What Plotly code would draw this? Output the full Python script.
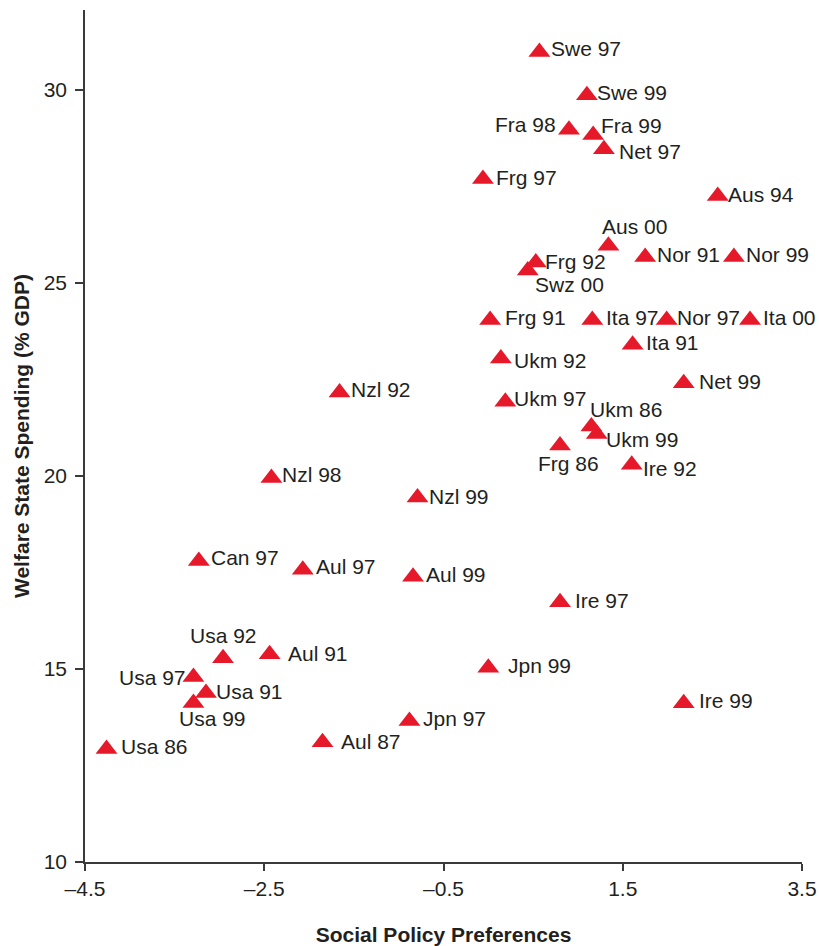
import plotly.graph_objects as go

# ---- data ----
labels = ["Swe 97", "Swe 99", "Fra 98", "Fra 99", "Net 97", "Frg 97", "Aus 94", "Aus 00",
          "Nor 91", "Nor 99", "Frg 92", "Swz 00", "Frg 91", "Ita 97", "Nor 97", "Ita 00",
          "Ita 91", "Ukm 92", "Net 99", "Ukm 97", "Ukm 86", "Ukm 99", "Frg 86", "Ire 92",
          "Nzl 92", "Nzl 98", "Can 97", "Aul 97", "Usa 92", "Aul 91", "Usa 97", "Usa 91",
          "Usa 99", "Usa 86", "Aul 87", "Nzl 99", "Aul 99", "Ire 97", "Jpn 99", "Ire 99",
          "Jpn 97"]
social_pref = [0.57, 1.10, 0.90, 1.17, 1.29, -0.06, 2.56, 1.34,
               1.75, 2.74, 0.53, 0.44, 0.02, 1.16, 1.99, 2.92,
               1.61, 0.14, 2.18, 0.19, 1.15, 1.21, 0.80, 1.60,
               -1.66, -2.42, -3.23, -2.07, -2.96, -2.44, -3.29, -3.15,
               -3.29, -4.26, -1.85, -0.79, -0.84, 0.80, 0.00, 2.18,
               -0.88]
welfare_spend = [30.98, 29.86, 28.97, 28.83, 28.46, 27.69, 27.25, 25.96,
                 25.67, 25.67, 25.53, 25.32, 24.04, 24.04, 24.04, 24.04,
                 23.40, 23.04, 22.40, 21.92, 21.28, 21.09, 20.79, 20.29,
                 22.16, 19.95, 17.80, 17.57, 15.28, 15.38, 14.79, 14.38,
                 14.12, 12.93, 13.10, 19.44, 17.39, 16.73, 15.03, 14.11,
                 13.65]

x_ticks = [-4.5, -2.5, -0.5, 1.5, 3.5]
x_tick_text = ["\u20134.5", "\u20132.5", "\u20130.5", "1.5", "3.5"]
y_ticks = [10, 15, 20, 25, 30]
y_tick_text = ["10", "15", "20", "25", "30"]

# ---- label placement (style: anchor, x offset px, y offset px [down positive]) ----
label_style = [("left", 12, -4), ("left", 10.5, -3), ("right", -13, -5), ("left", 8, -9.5),
               ("left", 15.5, 2), ("left", 13.5, -2), ("left", 10.5, -1.5), ("left", -6.5, -19),
               ("left", 12, -3), ("left", 12.5, -3), ("left", 9, -1), ("left", 7.5, 14),
               ("left", 14.5, -2), ("left", 13.5, -2), ("left", 10, -2), ("left", 13, -2),
               ("left", 13.5, -2), ("left", 13, 2), ("left", 15.5, -1.5), ("left", 8.5, -3),
               ("left", -1, -17), ("left", 9.5, 5.5), ("center", 8.5, 18.5), ("left", 11, 4),
               ("left", 11.5, -3.5), ("left", 11, -3), ("left", 12.5, -3), ("left", 13, -3),
               ("center", 0, -22.5), ("left", 18.5, -1), ("right", -7.5, 0), ("left", 10.5, -1),
               ("center", 19, 16), ("left", 14, -2.5), ("left", 18, -1), ("left", 11.5, -1),
               ("left", 12.5, -2.5), ("left", 14.5, -2), ("left", 20, -2), ("left", 15, -2.5),
               ("left", 14, -3)]

FONT = "Liberation Sans, Arial, Helvetica, sans-serif"
TEXT_COLOR = "#231f20"
RED = "#e6192b"

fig = go.Figure()
fig.add_trace(go.Scatter(
    x=social_pref, y=welfare_spend, mode="markers",
    marker=dict(symbol="triangle-up", size=19, color=RED, line=dict(width=0)),
    hovertext=labels, hoverinfo="text", cliponaxis=False, showlegend=False,
))

annotations = []
for lab, xv, yv, (anc, dx, dy) in zip(labels, social_pref, welfare_spend, label_style):
    annotations.append(dict(
        x=xv, y=yv, xref="x", yref="y", text=lab, showarrow=False,
        xanchor=anc, yanchor="middle", xshift=dx, yshift=-dy,
        font=dict(family=FONT, size=21, color=TEXT_COLOR),
        borderpad=0, borderwidth=0,
    ))

fig.update_layout(
    width=819, height=946,
    margin=dict(l=85, r=17, t=10, b=84, autoexpand=False),
    plot_bgcolor="white", paper_bgcolor="white",
    font=dict(family=FONT, size=21, color=TEXT_COLOR),
    annotations=annotations,
    xaxis=dict(
        range=[-4.5, 3.5], tickvals=x_ticks, ticktext=x_tick_text, automargin=False,
        showgrid=False, zeroline=False, showline=True, linecolor="#3a3a3a", linewidth=1.5,
        ticks="outside", ticklen=7, tickwidth=1.5, tickcolor="#3a3a3a",
        tickfont=dict(family=FONT, size=21, color=TEXT_COLOR),
        title=dict(text="<b>Social Policy Preferences</b>", standoff=28,
                   font=dict(family=FONT, size=21, color=TEXT_COLOR)),
    ),
    yaxis=dict(
        range=[10, 32.07], tickvals=y_ticks, ticktext=y_tick_text, automargin=False,
        showgrid=False, zeroline=False, showline=True, linecolor="#3a3a3a", linewidth=1.5,
        ticks="outside", ticklen=8, tickwidth=1.5, tickcolor="#3a3a3a", ticklabelstandoff=4,
        tickfont=dict(family=FONT, size=21, color=TEXT_COLOR),
        title=dict(text="<b>Welfare State Spending (% GDP)</b>", standoff=8,
                   font=dict(family=FONT, size=21, color=TEXT_COLOR)),
    ),
)

fig.write_html(
    "out.html",
    config={"displayModeBar": False},
    post_script="document.body.style.margin='0';document.body.style.overflow='hidden';",
)
